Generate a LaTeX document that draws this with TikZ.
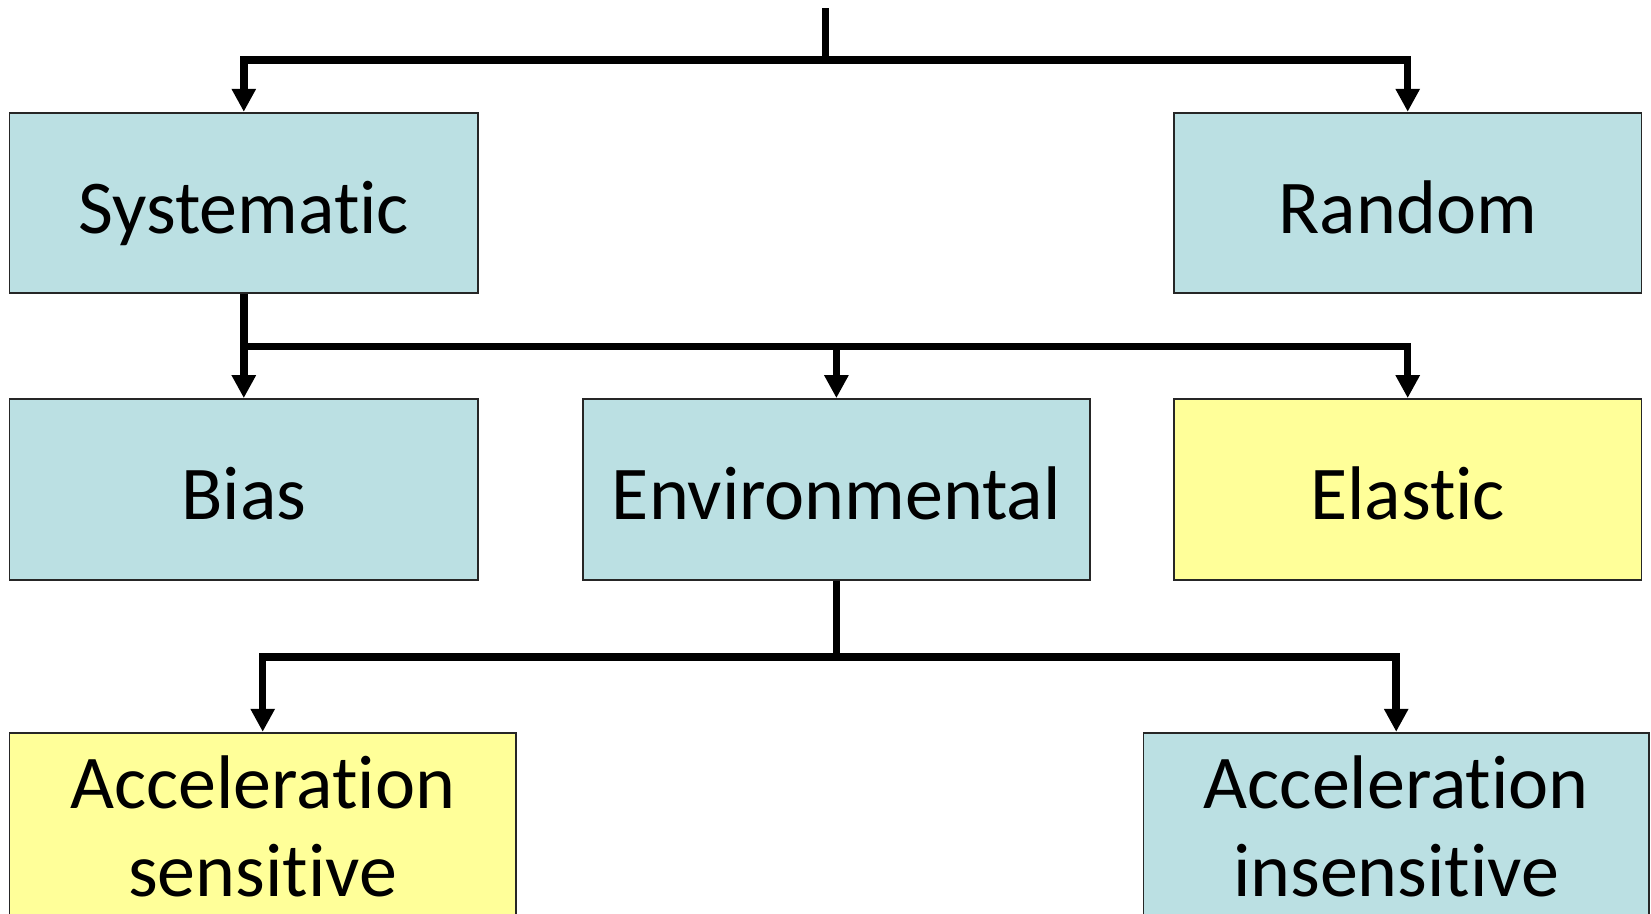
\documentclass[tikz,border=0pt]{standalone}
\usepackage{fontspec}
\setmainfont{Carlito}[Ligatures=NoCommon]
\usetikzlibrary{arrows.meta}
\definecolor{boxblue}{RGB}{187,224,227}
\definecolor{boxyellow}{RGB}{255,255,153}
\tikzset{
  box/.style={draw=black!85, line width=1.8pt, rectangle, inner sep=0pt,
    font=\fontsize{76}{87}\selectfont, text height=60.6pt, text depth=0pt},
  bluebox/.style={box, fill=boxblue},
  yellowbox/.style={box, fill=boxyellow},
  lbl/.style={inner sep=0pt, font=\fontsize{76}{87}\selectfont},
  conn/.style={line width=7.5pt, black},
  arr/.style={conn, -{Triangle[width=23pt,length=23pt]}},
}
\begin{document}
\begin{tikzpicture}[x=1pt,y=-1pt]
\useasboundingbox (0,0) rectangle (1651,913);
\clip (0,0) rectangle (1651,913);

% first level
\node[bluebox, minimum width=468.5pt, minimum height=180pt] (sys) at (243.8,202.7) {Systematic};
\node[bluebox, minimum width=467.5pt, minimum height=180pt] (rand) at (1407.7,202.7) {Random};

% second level
\node[bluebox, minimum width=468.5pt, minimum height=181pt] (bias) at (243.8,489.5) {Bias};
\node[bluebox, minimum width=506.8pt, minimum height=181pt] (env) at (836.4,489.5) {Environmental};
\node[yellowbox, minimum width=467.5pt, minimum height=181pt] (elas) at (1407.7,489.5) {Elastic};

% third level (boxes run past the lower edge)
\node[yellowbox, minimum width=506.5pt, minimum height=200pt, anchor=north] (accs) at (262.7,731.8) {};
\node[lbl, anchor=base] (accs-a) at (262.7,808) {Acceleration};
\node[lbl, anchor=base] (accs-b) at (262.7,896) {sensitive};
\node[bluebox, minimum width=505.5pt, minimum height=200pt, anchor=north] (accin) at (1396.2,731.8) {};
\node[lbl, anchor=base] (accin-a) at (1396.2,808) {Acceleration};
\node[lbl, anchor=base] (accin-b) at (1396.2,896) {insensitive};

% connectors
\coordinate (root) at (825.5,8.4);
\coordinate (fork1) at (825.5,60);
\draw[conn] (root) -- (fork1);
\draw[arr] (fork1) -| (sys.north);
\draw[arr] (fork1) -| (rand.north);

\path (sys.south) ++(0,52.7) coordinate (fork2);
\draw[arr] (sys.south) -- (bias.north);
\draw[arr] (fork2) -| (env.north);
\draw[arr] (fork2) -| (elas.north);

\path (env.south) ++(0,76) coordinate (fork3);
\draw[conn] (env.south) -- (fork3);
\draw[arr] (fork3) -| (accs.north);
\draw[arr] (fork3) -| (accin.north);
\end{tikzpicture}
\end{document}
